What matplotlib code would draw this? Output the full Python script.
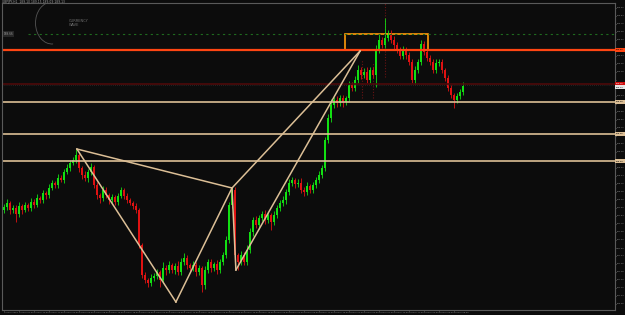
import matplotlib
matplotlib.use("Agg")
import matplotlib.pyplot as plt
from matplotlib.patches import Rectangle, Arc
from matplotlib.ticker import MultipleLocator, FuncFormatter

# H1 closes (price), first open and wick sizes (hundredths)
first_open = 187.90
closes = [
    187.93, 187.97, 187.90, 187.92, 187.86, 187.94, 187.90, 187.95, 187.92, 187.98,
    187.95, 188.02, 188.00, 188.07, 188.05, 188.12, 188.17, 188.15, 188.22, 188.20,
    188.28, 188.32, 188.37, 188.40, 188.45, 188.32, 188.25, 188.22, 188.28, 188.33,
    188.15, 188.05, 188.02, 188.10, 188.05, 188.00, 188.03, 187.98, 188.04, 188.10,
    188.04, 188.00, 187.97, 187.94, 187.90, 187.55, 187.25, 187.20, 187.17, 187.22,
    187.24, 187.28, 187.20, 187.32, 187.30, 187.35, 187.30, 187.34, 187.28, 187.38,
    187.42, 187.35, 187.32, 187.35, 187.28, 187.32, 187.15, 187.30, 187.38, 187.32,
    187.36, 187.30, 187.38, 187.45, 187.60, 187.95, 188.10, 187.45, 187.38, 187.45,
    187.38, 187.50, 187.68, 187.80, 187.75, 187.82, 187.86, 187.80, 187.85, 187.78,
    187.85, 187.92, 187.97, 188.00, 188.08, 188.17, 188.20, 188.16, 188.17, 188.10,
    188.08, 188.14, 188.10, 188.15, 188.20, 188.25, 188.32, 188.60, 188.82, 188.95,
    189.00, 188.97, 189.02, 188.98, 189.02, 189.15, 189.12, 189.20, 189.30, 189.25,
    189.28, 189.20, 189.30, 189.25, 189.50, 189.60, 189.55, 189.62, 189.67, 189.60,
    189.55, 189.50, 189.44, 189.50, 189.45, 189.38, 189.20, 189.30, 189.38, 189.56,
    189.48, 189.42, 189.38, 189.30, 189.37, 189.38, 189.30, 189.22, 189.12, 189.05,
    189.00, 189.04, 189.08, 189.14,
]
up_wick = [
    3, 4, 2, 3, 3, 4, 2, 3, 2, 4, 3, 4, 2, 3, 2, 4, 3, 2, 4, 3,
    3, 4, 3, 3, 6, 3, 2, 4, 3, 4, 2, 3, 2, 4, 3, 2, 3, 2, 3, 3,
    2, 3, 2, 2, 3, 2, 2, 3, 2, 4, 3, 3, 2, 6, 3, 4, 2, 3, 5, 4,
    5, 3, 2, 4, 3, 3, 2, 4, 3, 3, 2, 4, 3, 3, 4, 3, 3, 3, 2, 4,
    3, 5, 4, 3, 4, 3, 3, 4, 3, 2, 4, 3, 3, 4, 3, 4, 3, 2, 4, 5,
    3, 4, 2, 3, 3, 4, 3, 3, 4, 6, 3, 4, 3, 3, 2, 4, 3, 4, 5, 3,
    4, 5, 3, 3, 5, 6, 3, 20, 3, 3, 4, 3, 3, 4, 3, 3, 3, 4, 3, 4,
    3, 3, 3, 3, 4, 3, 3, 2, 3, 3, 2, 3, 3, 4,
]
dn_wick = [
    3, 3, 4, 3, 8, 3, 4, 2, 3, 3, 3, 2, 3, 3, 4, 3, 2, 3, 3, 2,
    3, 2, 3, 2, 3, 4, 4, 3, 4, 3, 3, 4, 5, 3, 3, 4, 3, 3, 3, 2,
    3, 3, 2, 3, 3, 3, 3, 3, 4, 3, 3, 3, 7, 3, 5, 3, 3, 4, 3, 3,
    3, 4, 3, 3, 4, 3, 7, 4, 3, 4, 3, 4, 3, 3, 3, 3, 3, 3, 8, 3,
    3, 3, 3, 4, 3, 4, 3, 4, 3, 8, 3, 3, 3, 3, 4, 3, 3, 4, 3, 3,
    4, 3, 3, 3, 3, 3, 3, 3, 3, 4, 3, 4, 3, 5, 3, 3, 3, 3, 3, 4,
    3, 3, 3, 3, 12, 3, 3, 3, 3, 3, 4, 3, 3, 3, 4, 3, 3, 4, 3, 3,
    3, 3, 3, 3, 3, 3, 3, 3, 3, 3, 8, 3, 3, 3,
]

time_labels = [
    "12 May 2015", "12 May 07:00", "12 May 12:00", "12 May 17:00", "12 May 22:00",
    "13 May 03:00", "13 May 08:00", "13 May 13:00", "13 May 18:00", "13 May 23:00",
    "14 May 04:00", "14 May 09:00", "14 May 14:00", "14 May 19:00", "15 May 00:00",
    "15 May 05:00", "15 May 10:00", "15 May 15:00", "15 May 20:00", "18 May 01:00",
    "18 May 06:00", "18 May 11:00", "18 May 16:00", "18 May 21:00", "19 May 02:00",
    "19 May 07:00", "19 May 12:00", "19 May 17:00", "19 May 22:00", "20 May 03:00",
    "20 May 08:00",
]

# horizontal levels
tan_levels = [188.98, 188.66, 188.39]
red_level = 189.50
green_level = 189.66
dark_level = 189.16
bid_price = 189.13

# XABCD pattern points (bar index, price)
pat_x = [24.3, 57.3, 76.0, 77.3, 118.7]
pat_y = [188.51, 186.98, 188.12, 187.30, 189.49]
pat_legs = [(0, 1), (1, 2), (0, 2), (2, 3), (2, 4), (3, 4)]

# box around the top
box_x = (113.7, 141.3)
box_y = (189.50, 189.66)

# dotted indicator lines
ind_x = [119.3, 123.0, 127.0]
ind_lo = [189.02, 189.02, 189.23]
ind_hi = [189.40, 189.37, 189.97]

bg = "#0c0c0c"
tan = "#dcbf96"
bull = "#12e012"
bear = "#e01212"
grey = "#8c8c8c"
narrow = ["Liberation Sans Narrow", "DejaVu Sans"]

fig = plt.figure(figsize=(6.25, 3.15), dpi=100, facecolor=bg)
ax = fig.add_axes([2 / 625, 1 - 310 / 315, 613 / 625, 307 / 315], facecolor=bg)

opens = [first_open] + closes[:-1]
idx = list(range(len(closes)))
cols, bots, hts, highs, lows = [], [], [], [], []
for o, c, u, d in zip(opens, closes, up_wick, dn_wick):
    top, bot = max(o, c), min(o, c)
    cols.append(bull if c >= o else bear)
    bots.append(bot)
    hts.append(max(top - bot, 0.008))
    highs.append(top + u / 100)
    lows.append(bot - d / 100)

ax.vlines(ind_x, ind_lo, ind_hi, colors="#6a1414", lw=0.8, linestyles=(0, (1, 1.5)))
ax.vlines(idx, lows, highs, colors=cols, lw=0.6)
ax.bar(idx, hts, bottom=bots, width=0.62, color=cols, linewidth=0)

for lv in tan_levels:
    ax.axhline(lv, color=tan, lw=1.2)
ax.axhline(red_level, color="#ff4512", lw=1.6)
ax.hlines(green_level, 8, 204, color="#1f6a1f", lw=0.8, linestyles=(0, (2, 3)))
ax.axhline(dark_level, color="#4e0a0a", lw=1.2)
ax.axhline(dark_level - 0.01, color="#3a3a3a", lw=0.5, ls=(0, (1, 2)))

for a, b in pat_legs:
    ax.plot([pat_x[a], pat_x[b]], [pat_y[a], pat_y[b]], color=tan, lw=1.1)

ax.add_patch(Rectangle((box_x[0], box_y[0]), box_x[1] - box_x[0], box_y[1] - box_y[0],
                       fill=False, edgecolor="#ff9c0a", lw=1.2))

# watermark logo
ax.add_patch(Arc((16, 189.77), 11, 0.42, theta1=60, theta2=330, color="#555555", lw=0.6))
ax.text(21.5, 189.77, "CURRENCY\nWAVE", fontsize=2.6, color="#6e6e6e",
        va="center", ha="left", linespacing=1.0)
ax.text(0.0, green_level, "189.66", fontsize=2.0, color="#9a9a9a", va="center",
        ha="left", family=narrow, bbox=dict(facecolor="#262626", edgecolor="none", pad=0.6))
fig.text(0.004, 0.999, "GBPJPY,H1  189.10 189.15 189.09 189.13", fontsize=2.2,
         color="#a0a0a0", va="top", ha="left", family=narrow)

ax.set_xlim(-0.67, 203.67)
ax.set_ylim(186.90, 189.97)

# price markers on the right scale
marks = [(red_level, "#ff4512", "#000000"), (dark_level, "#d01010", "#ffffff"),
         (bid_price, "#e6e6e6", "#000000")] + [(lv, tan, "#000000") for lv in tan_levels]
mark_prices = [m[0] for m in marks]


def price_fmt(v, pos):
    if any(abs(v - m) < 0.05 for m in mark_prices):
        return ""
    return f"{v:.2f}"


ax.yaxis.tick_right()
ax.yaxis.set_major_locator(MultipleLocator(0.08))
ax.yaxis.set_major_formatter(FuncFormatter(price_fmt))
ax.set_xticks(idx[::5])
ax.set_xticklabels(time_labels, ha="left", family=narrow)
ax.tick_params(axis="y", colors=grey, labelsize=1.6, length=1, width=0.5, pad=0.3)
ax.tick_params(axis="x", colors=grey, labelsize=1.55, length=1, width=0.5, pad=0.2)
for s in ax.spines.values():
    s.set_color("#5a5a5a")
    s.set_linewidth(0.8)

for p, fc, tc in marks:
    ax.text(1.002, p, f"{p:.2f}", transform=ax.get_yaxis_transform(), fontsize=1.6,
            color=tc, va="center", ha="left", clip_on=False,
            bbox=dict(facecolor=fc, edgecolor="none", pad=0.8))

fig.savefig("out.png", dpi=100, facecolor=bg)
